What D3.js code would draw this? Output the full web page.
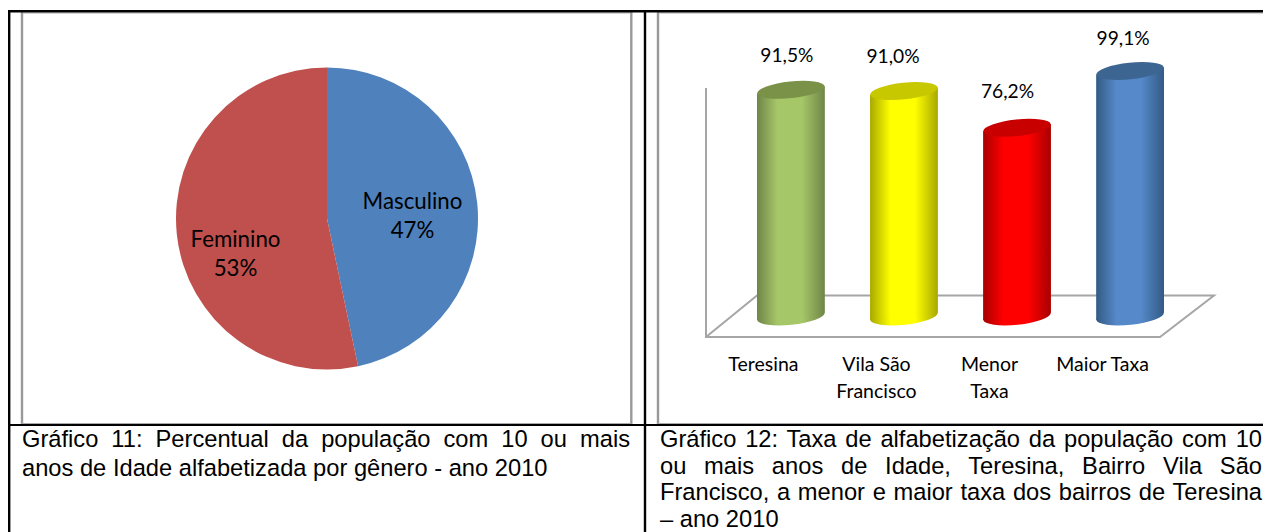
<!DOCTYPE html>
<html><head><meta charset="utf-8">
<script src="https://cdn.jsdelivr.net/npm/d3@7"></script>
<style>html,body{margin:0;padding:0;background:#fff;overflow:hidden}svg{display:block}</style>
</head><body><svg id="c" width="1263" height="532"></svg>
<script>
const pieLabels = ["Masculino","Feminino"];
const pieValues = [46.7,53.3];
const pieText = ["47%","53%"];
const pieColors = ["#4f81bd","#c0504d"];
const barLines = [["Teresina"],["Vila São","Francisco"],["Menor","Taxa"],["Maior Taxa"]];
const barValues = [91.5,91.0,76.2,99.1];
const barText = ["91,5%","91,0%","76,2%","99,1%"];
const barMid = ["#a6c768","#ffff00","#ff0000","#5589c9"];
const barEdge = ["#6f8548","#a8a800","#a80000","#335a85"];
const barTop = ["#7a9148","#c8c800","#c80000","#3c6591"];
const cap1 = ["Gráfico 11: Percentual da população com 10 ou mais","anos de Idade alfabetizada por gênero - ano 2010"];
const cap2 = ["Gráfico 12: Taxa de alfabetização da população com 10","ou mais anos de Idade, Teresina, Bairro Vila São","Francisco, a menor e maior taxa dos bairros de Teresina","– ano 2010"];

const svg = d3.select("#c");
const calibri = "Lato, Carlito, sans-serif", arial = "'Liberation Sans', Arial, sans-serif";

// frames
const g = svg.append("g").attr("fill","none");
[[22,12,22,424],[631.3,12,631.3,424],[658,12,658,424]].forEach(l=>
  g.append("line").attr("x1",l[0]).attr("y1",l[1]).attr("x2",l[2]).attr("y2",l[3]).attr("stroke","#999").attr("stroke-width",2.4));
[[22,631],[658,1263]].forEach(l=>{
  g.append("line").attr("x1",l[0]).attr("x2",l[1]).attr("y1",13).attr("y2",13).attr("stroke","#aaa").attr("stroke-width",1);
  g.append("line").attr("x1",l[0]).attr("x2",l[1]).attr("y1",423.5).attr("y2",423.5).attr("stroke","#aaa").attr("stroke-width",1);
});
[[8,11.3,1263,11.3,2.6],[9.2,11,9.2,532,2.4],[645,11,645,532,2.4],[8,425,1263,425,2]].forEach(l=>
  g.append("line").attr("x1",l[0]).attr("y1",l[1]).attr("x2",l[2]).attr("y2",l[3]).attr("stroke","#000").attr("stroke-width",l[4]));

// pie
const pieG = svg.append("g").attr("transform","translate(327,218.5)");
const arcs = d3.pie().sort(null)(pieValues);
const arc = d3.arc().innerRadius(0).outerRadius(151);
pieG.selectAll("path").data(arcs).join("path").attr("d",arc).attr("fill",(d,i)=>pieColors[i]);
const lblPos = [[412.5,209],[235.5,247]];
pieLabels.forEach((t,i)=>{
  const tx = svg.append("text").attr("text-anchor","middle").attr("font-family",calibri).attr("font-size",22.3).attr("fill","#000");
  tx.append("tspan").attr("x",lblPos[i][0]).attr("y",lblPos[i][1]).text(t);
  tx.append("tspan").attr("x",lblPos[i][0]).attr("y",lblPos[i][1]+29).text(pieText[i]);
});

// cylinders
const x = d3.scaleBand().domain(d3.range(4)).range([757,1164]).paddingInner(0.4).paddingOuter(0);
const y = d3.scaleLinear().domain([0,100]).range([316.4,68.8]);
const rx = x.bandwidth()/2, ry = 8.3, tilt = 6, baseY = y(0), rise = rx*Math.sin(tilt*Math.PI/180);
const defs = svg.append("defs");
barValues.forEach((v,i)=>{
  const gr = defs.append("linearGradient").attr("id","g"+i);
  [[0,barEdge[i]],[.3,barMid[i]],[.66,barMid[i]],[1,barEdge[i]]].forEach(s=>
    gr.append("stop").attr("offset",s[0]).attr("stop-color",s[1]));
});

// floor + wall
svg.append("path").attr("fill","none").attr("stroke","#a6a6a6").attr("stroke-width",2)
  .attr("d","M706,88V337H1160L1214,295.5H757L706,337");

const labelDx = [-4,-11,-9.5,-7];
const labelDy = [-28,-28,-29.5,-26];
barValues.forEach((v,i)=>{
  const x0 = x(i), cx = x0+rx, top = y(v);
  svg.append("ellipse").attr("cx",cx).attr("cy",baseY).attr("rx",rx).attr("ry",ry)
   .attr("transform",`rotate(${-tilt},${cx},${baseY})`).attr("fill",`url(#g${i})`);
  svg.append("path").attr("fill",`url(#g${i})`)
   .attr("d",d3.line()([[x0,top+rise],[x0,baseY+rise],[x0+2*rx,baseY-rise],[x0+2*rx,top-rise]])+"Z");
  svg.append("ellipse").attr("cx",cx).attr("cy",top).attr("rx",rx).attr("ry",ry)
   .attr("transform",`rotate(${-tilt},${cx},${top})`).attr("fill",barTop[i]);
  svg.append("text").attr("x",cx+labelDx[i]).attr("y",top+labelDy[i]).attr("text-anchor","middle").attr("font-family",calibri).attr("font-size",19.2).attr("fill","#000").text(barText[i]);
  const t = svg.append("text").attr("text-anchor","middle").attr("font-family",calibri).attr("font-size",19.5).attr("fill","#000");
  barLines[i].forEach((s,j)=>t.append("tspan").attr("x",cx-27.5).attr("y",371+j*26.5).text(s));
});

// captions
function caption(lines,x0,x1,ys){
  lines.forEach((s,i)=>{
    const t = svg.append("text").attr("x",x0).attr("y",ys[i]).attr("font-family",arial).attr("font-size",23.7).attr("fill","#000").text(s);
    if(i<lines.length-1){
      const w = t.node().getComputedTextLength(), n = s.split(" ").length-1;
      t.attr("word-spacing",(x1-x0-w)/n);
    }
  });
}
caption(cap1,22,630,[447,476]);
caption(cap2,660,1262,[447,473.7,500.4,527]);
</script></body></html>
